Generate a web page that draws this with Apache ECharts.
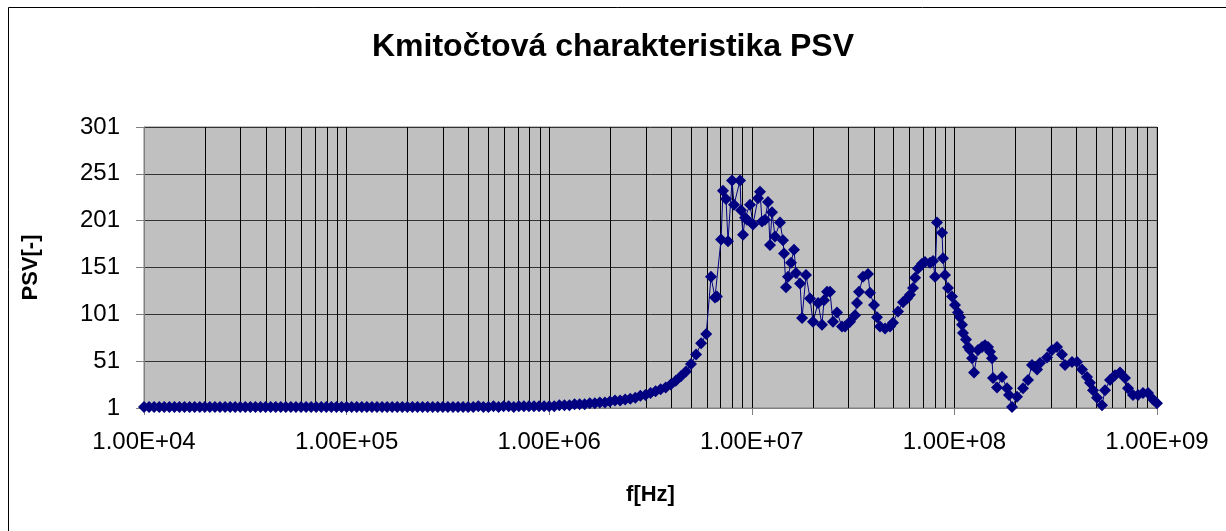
<!DOCTYPE html>
<html>
<head>
<meta charset="utf-8">
<title>Kmitočtová charakteristika PSV</title>
<script src="https://cdn.jsdelivr.net/npm/echarts@6/dist/echarts.min.js"></script>
<style>
  html, body { margin: 0; padding: 0; background: #fff; }
  #chart { width: 1226px; height: 531px; }
</style>
</head>
<body>
<div id="chart"></div>
<script>
// Frequency sweep [Hz] and measured PSV values
const freqs = [
  // 1e4 .. 1e5
  1.000e4, 1.059e4, 1.122e4, 1.189e4, 1.259e4, 1.334e4, 1.413e4, 1.496e4, 1.585e4, 1.679e4,
  1.778e4, 1.884e4, 1.995e4, 2.113e4, 2.239e4, 2.371e4, 2.512e4, 2.661e4, 2.818e4, 2.985e4,
  3.162e4, 3.350e4, 3.548e4, 3.758e4, 3.981e4, 4.217e4, 4.467e4, 4.732e4, 5.012e4, 5.309e4,
  5.623e4, 5.957e4, 6.310e4, 6.683e4, 7.079e4, 7.499e4, 7.943e4, 8.414e4, 8.913e4, 9.441e4,
  // 1e5 .. 1e6
  1.000e5, 1.059e5, 1.122e5, 1.189e5, 1.259e5, 1.334e5, 1.413e5, 1.496e5, 1.585e5, 1.679e5,
  1.778e5, 1.884e5, 1.995e5, 2.113e5, 2.239e5, 2.371e5, 2.512e5, 2.661e5, 2.818e5, 2.985e5,
  3.162e5, 3.350e5, 3.548e5, 3.758e5, 3.981e5, 4.217e5, 4.467e5, 4.732e5, 5.012e5, 5.309e5,
  5.623e5, 5.957e5, 6.310e5, 6.683e5, 7.079e5, 7.499e5, 7.943e5, 8.414e5, 8.913e5, 9.441e5,
  // 1e6 .. 6e6
  1.000e6, 1.059e6, 1.122e6, 1.189e6, 1.259e6, 1.334e6, 1.413e6, 1.496e6, 1.585e6, 1.679e6,
  1.778e6, 1.884e6, 1.995e6, 2.113e6, 2.239e6, 2.371e6, 2.512e6, 2.661e6, 2.818e6, 2.985e6,
  3.162e6, 3.350e6, 3.548e6, 3.758e6, 3.981e6, 4.217e6, 4.467e6, 4.732e6, 5.012e6, 5.309e6,
  5.623e6, 5.957e6,
  // resonance region
  6.29e6, 6.58e6, 6.73e6, 7.05e6, 7.21e6, 7.46e6, 7.63e6, 7.99e6, 8.17e6, 8.75e6,
  8.85e6, 9.05e6, 9.26e6, 9.47e6, 9.80e6, 1.014e7, 1.073e7, 1.098e7, 1.123e7, 1.162e7,
  1.202e7, 1.230e7, 1.258e7, 1.302e7, 1.378e7, 1.426e7, 1.442e7, 1.475e7, 1.509e7, 1.561e7,
  1.616e7, 1.653e7, 1.730e7, 1.770e7, 1.852e7, 1.938e7, 2.005e7, 2.123e7, 2.221e7, 2.272e7,
  2.351e7, 2.432e7, 2.516e7, 2.633e7, 2.787e7, 2.884e7, 3.052e7, 3.231e7, 3.305e7, 3.381e7,
  3.539e7, 3.746e7, 3.832e7, 4.011e7, 4.150e7, 4.294e7, 4.546e7, 4.811e7, 4.978e7, 5.268e7,
  5.577e7, 5.834e7, 6.039e7, 6.248e7, 6.393e7, 6.614e7, 6.922e7, 7.162e7, 7.581e7, 7.845e7,
  8.025e7, 8.208e7, 8.689e7, 8.786e7, 8.989e7, 9.298e7, 9.731e7, 1.007e8, 1.042e8, 1.066e8,
  1.090e8, 1.103e8, 1.141e8, 1.168e8, 1.194e8, 1.222e8, 1.250e8, 1.308e8, 1.369e8, 1.416e8,
  1.465e8, 1.499e8, 1.533e8, 1.551e8, 1.623e8, 1.718e8, 1.818e8, 1.860e8, 1.925e8, 2.037e8,
  2.181e8, 2.309e8, 2.416e8, 2.558e8, 2.646e8, 2.865e8, 3.031e8, 3.209e8, 3.397e8, 3.515e8,
  3.807e8, 4.029e8, 4.265e8, 4.514e8, 4.671e8, 4.833e8, 5.057e8, 5.353e8, 5.538e8, 5.861e8,
  6.204e8, 6.567e8, 6.951e8, 7.192e8, 7.611e8, 8.057e8, 8.528e8, 9.027e8, 9.557e8, 1.000e9
];

const psv = [
  // 1e4 .. 1e5
  2, 2, 2, 2, 2, 2, 2, 2, 2, 2,
  2, 2, 2, 2, 2, 2, 2, 2, 2, 2,
  2, 2, 2, 2, 2, 2, 2, 2, 2, 2,
  2, 2, 2, 2, 2, 2, 2, 2, 2, 2,
  // 1e5 .. 1e6
  2, 2, 2, 2, 2, 2, 2, 2, 2, 2,
  2, 2, 2, 2, 2, 2, 2, 2, 2, 2,
  2, 2, 2, 2, 2, 2, 3, 2, 2, 3,
  2, 3, 3, 2, 3, 3, 3, 3, 3, 3,
  // 1e6 .. 6e6
  3, 3, 4, 4, 4, 5, 5, 5, 6, 6,
  7, 7, 8, 9, 9, 10, 11, 12, 14, 15,
  17, 19, 21, 23, 26, 30, 35, 40, 48, 58,
  70, 80,
  // resonance region
  141, 119, 120, 181, 233, 224, 179, 244, 218, 244,
  212, 186, 204, 202, 218, 197, 225, 232, 200, 202,
  221, 175, 210, 184, 199, 180, 166, 130, 141, 156,
  170, 145, 134, 97, 143, 118, 93, 113, 90, 116,
  125, 125, 93, 103, 88, 88, 93, 100, 113, 125,
  141, 144, 124, 111, 98, 88, 86, 88, 92, 104,
  114, 118, 122, 129, 140, 150, 155, 157, 156, 158,
  141, 199, 188, 161, 143, 129, 120, 111, 103, 98,
  90, 81, 74, 66, 63, 54, 39, 63, 66, 68,
  66, 61, 54, 33, 23, 34, 22, 15, 2, 13,
  22, 31, 47, 42, 49, 55, 63, 66, 58, 47,
  50, 50, 42, 34, 28, 20, 12, 4, 20, 31,
  36, 39, 33, 22, 15, 15, 17, 17, 10, 6
];

// Axis settings
const yTicks = { min: 1, max: 301, step: 50 };
const xDecades = { min: 1e4, max: 1e9 };
const minorMultipliers = [2, 3, 4, 5, 6, 7, 8, 9];

const FONT = '"Liberation Sans", Arial, Helvetica, sans-serif';

// minor vertical gridlines at 2..9 × 10^n
const minorLines = [];
for (let d = xDecades.min; d < xDecades.max; d *= 10) {
  minorMultipliers.forEach(m => minorLines.push({ xAxis: m * d }));
}

const points = freqs.map((f, i) => [f, psv[i]]);

function sci(v) {
  const e = Math.round(Math.log10(v));
  return '1.00E+' + (e < 10 ? '0' + e : String(e));
}

const chart = echarts.init(document.getElementById('chart'), null, { renderer: 'canvas' });

chart.setOption({
  animation: false,
  backgroundColor: '#ffffff',
  title: {
    text: 'Kmitočtová charakteristika PSV',
    left: 'center',
    top: 26,
    textStyle: { fontFamily: FONT, fontSize: 32, fontWeight: 'bold', color: '#000' }
  },
  graphic: [{
    type: 'rect',
    shape: { x: 8.5, y: 7.5, width: 1240, height: 560 },
    style: { fill: 'none', stroke: '#000', lineWidth: 1 },
    silent: true,
    z: -1
  }],
  grid: {
    left: 144, right: 69, top: 127, bottom: 123,
    show: true,
    backgroundColor: '#C0C0C0',
    borderColor: '#808080',
    borderWidth: 1
  },
  xAxis: {
    type: 'log',
    logBase: 10,
    min: xDecades.min,
    max: xDecades.max,
    name: 'f[Hz]',
    nameLocation: 'middle',
    nameGap: 76,
    nameTextStyle: { fontFamily: FONT, fontSize: 22, fontWeight: 'bold', color: '#000' },
    axisLine: { show: true, lineStyle: { color: '#808080', width: 1 } },
    axisTick: { show: true, inside: false, length: 7, lineStyle: { color: '#808080' } },
    axisLabel: {
      formatter: sci,
      fontFamily: FONT, fontSize: 24, color: '#000', margin: 22,
      showMinLabel: true, showMaxLabel: true
    },
    splitLine: { show: true, lineStyle: { color: '#000', width: 1 } }
  },
  yAxis: {
    type: 'value',
    min: yTicks.min,
    max: yTicks.max,
    interval: yTicks.step,
    name: 'PSV[-]',
    nameLocation: 'middle',
    nameRotate: 90,
    nameGap: 102,
    nameTextStyle: { fontFamily: FONT, fontSize: 22, fontWeight: 'bold', color: '#000' },
    axisLine: { show: true, lineStyle: { color: '#808080', width: 1 } },
    axisTick: { show: true, inside: false, length: 8, lineStyle: { color: '#808080' } },
    axisLabel: { fontFamily: FONT, fontSize: 24, color: '#000', margin: 24 },
    splitLine: { show: true, lineStyle: { color: '#333', width: 1 } }
  },
  series: [
    {
      // minor gridlines layer
      type: 'line',
      data: [],
      silent: true,
      z: 1,
      markLine: {
        silent: true,
        symbol: ['none', 'none'],
        label: { show: false },
        lineStyle: { color: '#000', width: 1, type: 'solid' },
        emphasis: { disabled: true },
        data: minorLines
      }
    },
    {
      name: 'PSV',
      type: 'line',
      data: points,
      z: 5,
      symbol: 'diamond',
      symbolSize: 12,
      showAllSymbol: true,
      itemStyle: { color: '#000080' },
      lineStyle: { color: '#000080', width: 1 }
    }
  ]
});
</script>
</body>
</html>
